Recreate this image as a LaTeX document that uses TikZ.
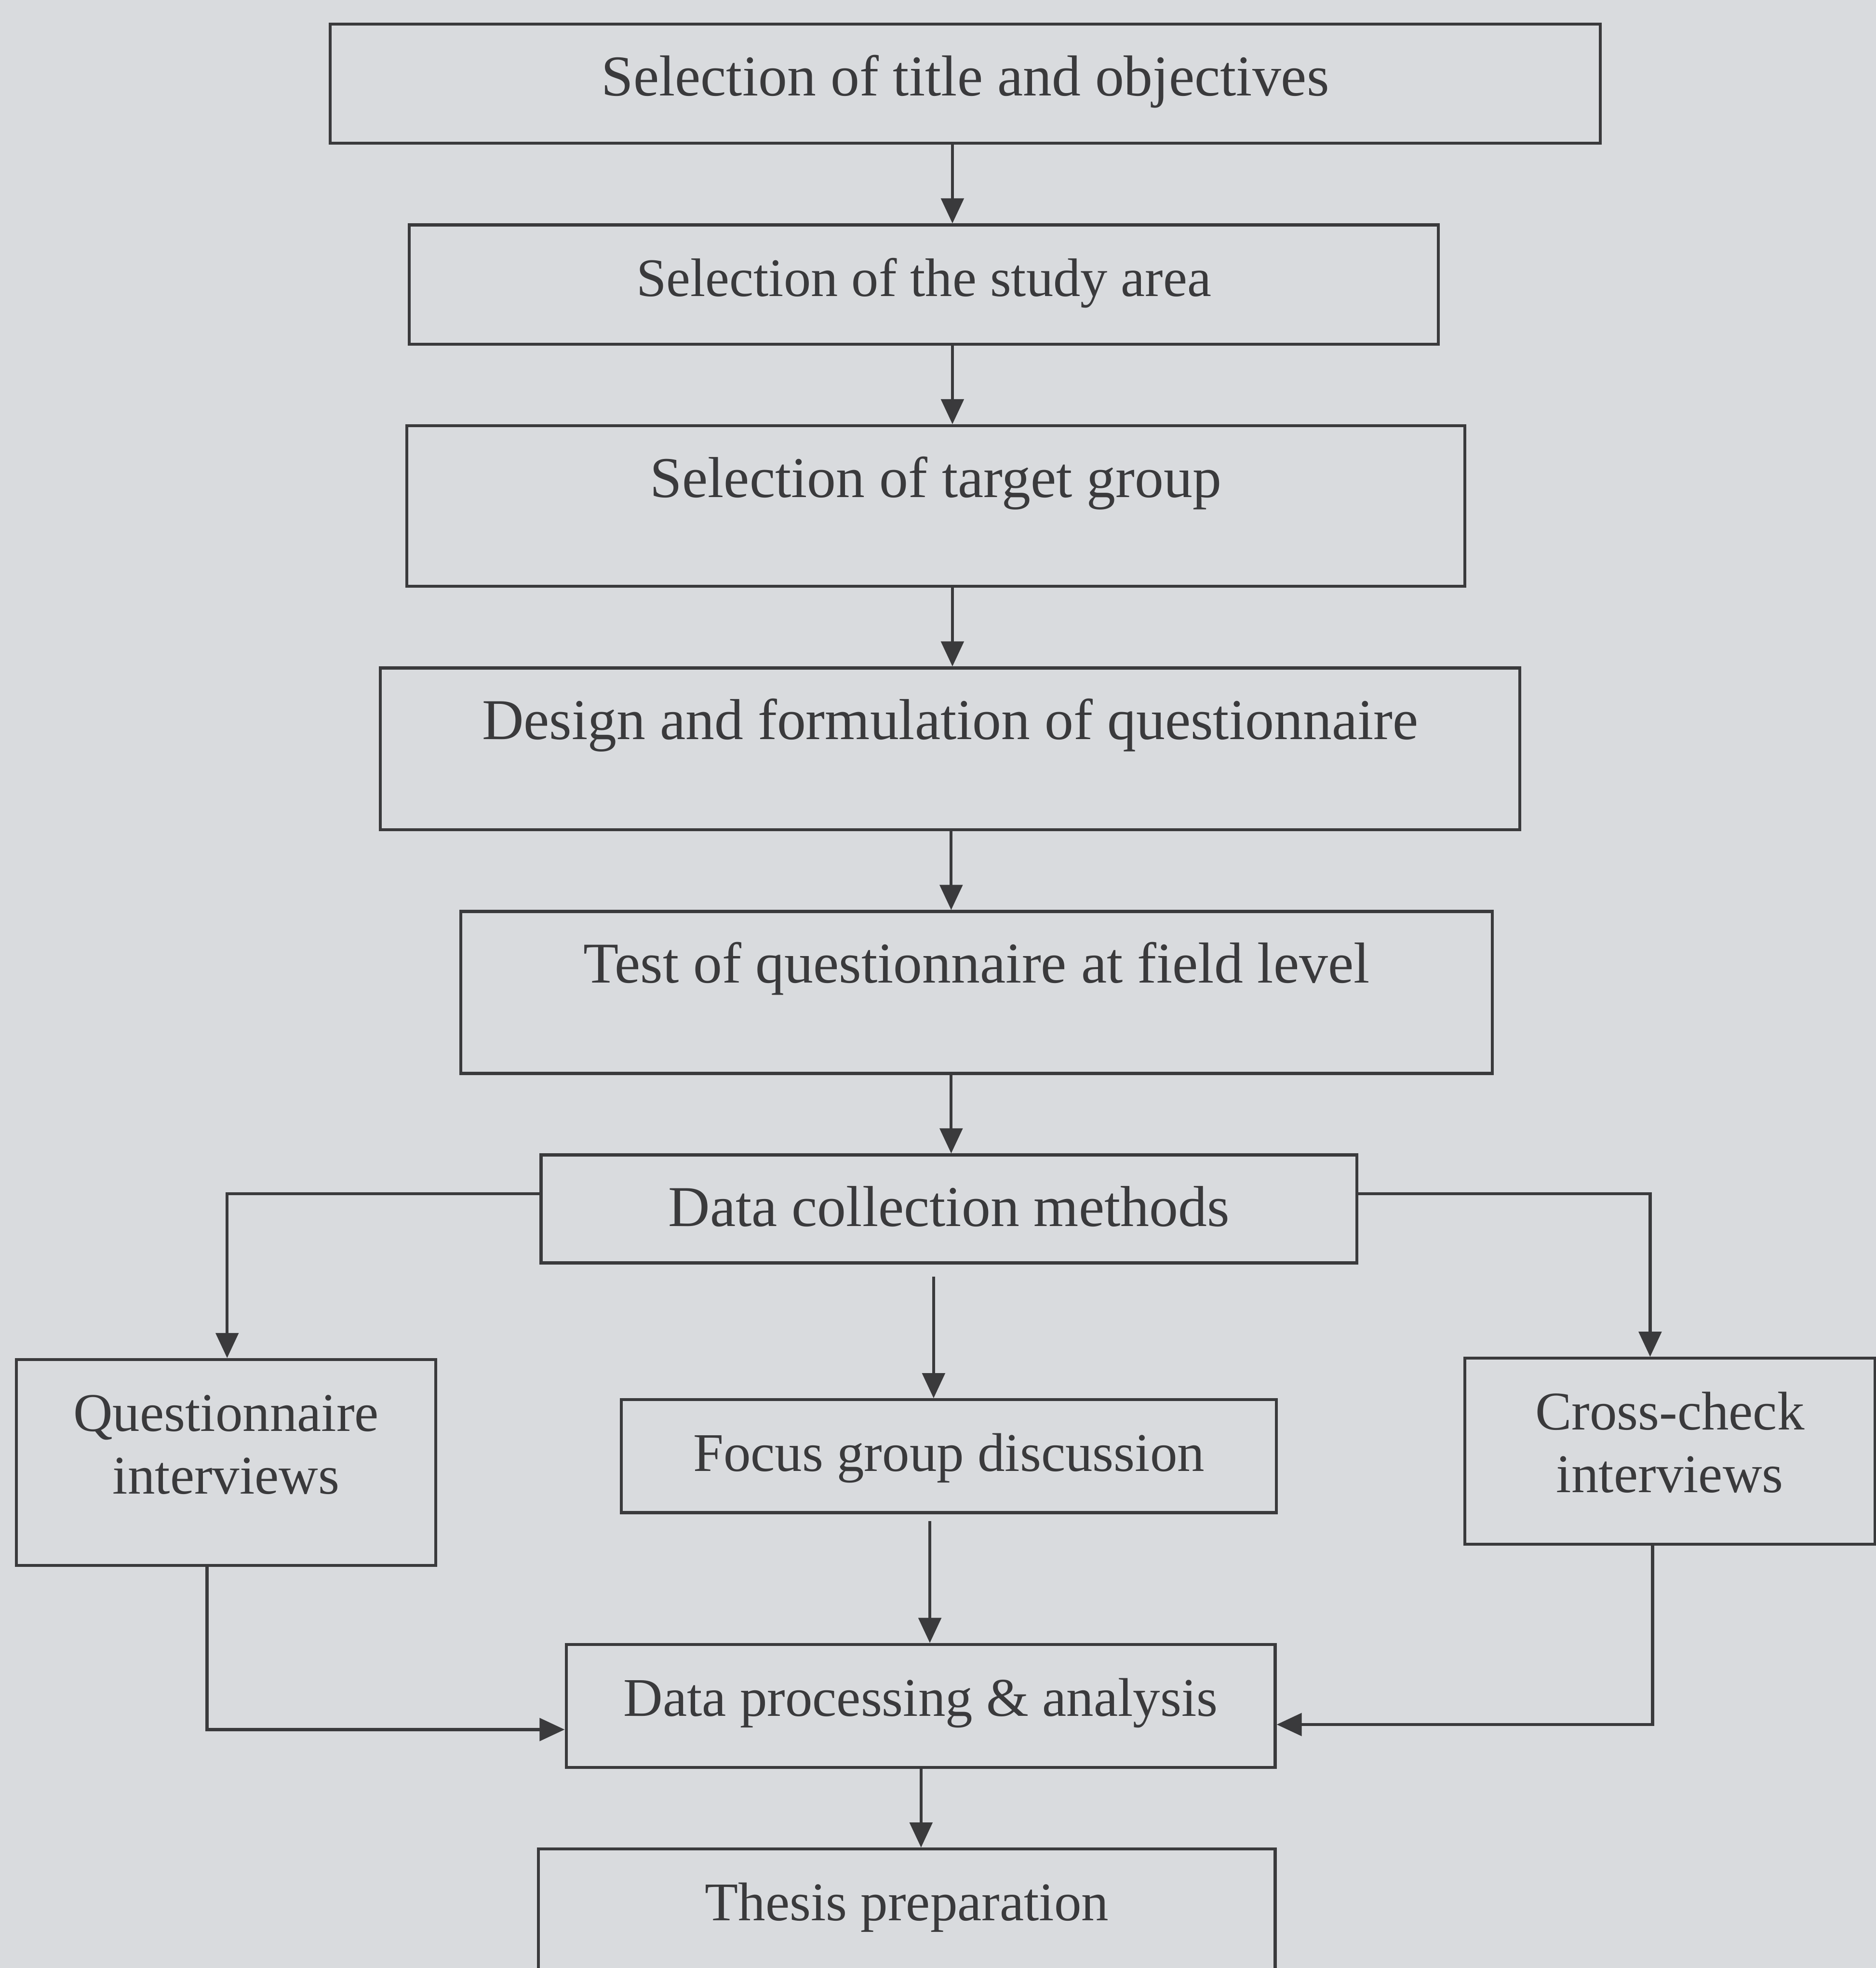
\documentclass[tikz,border=0pt]{standalone}
\usepackage{fontspec}
\setmainfont{Liberation Serif}
\usetikzlibrary{arrows.meta}
\definecolor{bg}{HTML}{D9DBDE}
\definecolor{ink}{HTML}{3A3A3C}
\tikzset{
  box/.style={draw=ink, line width=1.2pt, anchor=north west, inner sep=0pt,
    text=ink, align=center, text height=28.5pt},
  big/.style={font=\fontsize{23}{27}\selectfont},
  small/.style={font=\fontsize{21.7}{25}\selectfont},
  arr/.style={draw=ink, line width=1.2pt, -{Triangle[length=10pt,width=9pt]}},
}
\begin{document}
\begin{tikzpicture}[x=0.5pt,y=-0.5pt]
\fill[bg] (0,0) rectangle (1495,1568);
\useasboundingbox (0,0) rectangle (1495,1568);
\clip (0,0) rectangle (1495,1568);

\node[box,big,minimum width=506pt,text depth=19pt]   (b1) at (262,18)  {Selection of title and objectives};
\node[box,font=\fontsize{21.6}{25}\selectfont,minimum width=410pt,text depth=19pt] (b2) at (325,178) {Selection of the study area};
\node[box,big,minimum width=421.5pt,text depth=35.5pt] (b3) at (323,338) {Selection of target group};
\node[box,big,minimum width=454pt,text depth=36pt]   (b4) at (302,531) {Design and formulation of questionnaire};
\node[box,big,minimum width=411pt,text depth=36pt]   (b5) at (366,725) {Test of questionnaire at field level};
\node[box,big,minimum width=325pt,text depth=14.5pt] (b6) at (430,919) {Data collection methods};
\node[box,small,minimum width=167pt,text depth=53.5pt] (b7) at (12,1082)
  {\begin{tabular}[t]{@{}c@{}}Questionnaire\\interviews\end{tabular}};
\node[box,small,minimum width=261pt,text depth=16.5pt] (b8) at (494,1114) {Focus group discussion};
\node[box,small,minimum width=163.5pt,text depth=45.5pt] (b9) at (1166,1081)
  {\begin{tabular}[t]{@{}c@{}}Cross-check\\interviews\end{tabular}};
\node[box,small,minimum width=282.5pt,text depth=20.5pt] (b10) at (450,1309) {Data processing \& analysis};
\node[box,small,minimum width=293.5pt,text depth=41.5pt] (b11) at (428,1472) {Thesis preparation};

\coordinate (xa) at (759,0);
\coordinate (xb) at (758,0);
\coordinate (xf) at (744,1017);
\coordinate (xg) at (741,1212);
\coordinate (xt) at (734,0);
\coordinate (ql) at (181,951);
\coordinate (cr) at (1315,951);
\coordinate (qd) at (165,1378);
\coordinate (cd) at (1317,1374);

\draw[arr] (b1.south -| xa) -- (b2.north -| xa);
\draw[arr] (b2.south -| xa) -- (b3.north -| xa);
\draw[arr] (b3.south -| xa) -- (b4.north -| xa);
\draw[arr] (b4.south -| xb) -- (b5.north -| xb);
\draw[arr] (b5.south -| xb) -- (b6.north -| xb);
\draw[arr] (b6.west |- ql) -- (ql) -- (b7.north -| ql);
\draw[arr] (b6.east |- cr) -- (cr) -- (b9.north -| cr);
\draw[arr] (xf) -- (b8.north -| xf);
\draw[arr] (xg) -- (b10.north -| xg);
\draw[arr] (b7.south -| qd) -- (qd) -- (b10.west |- qd);
\draw[arr] (b9.south -| cd) -- (cd) -- (b10.east |- cd);
\draw[arr] (b10.south -| xt) -- (b11.north -| xt);
\end{tikzpicture}
\end{document}
